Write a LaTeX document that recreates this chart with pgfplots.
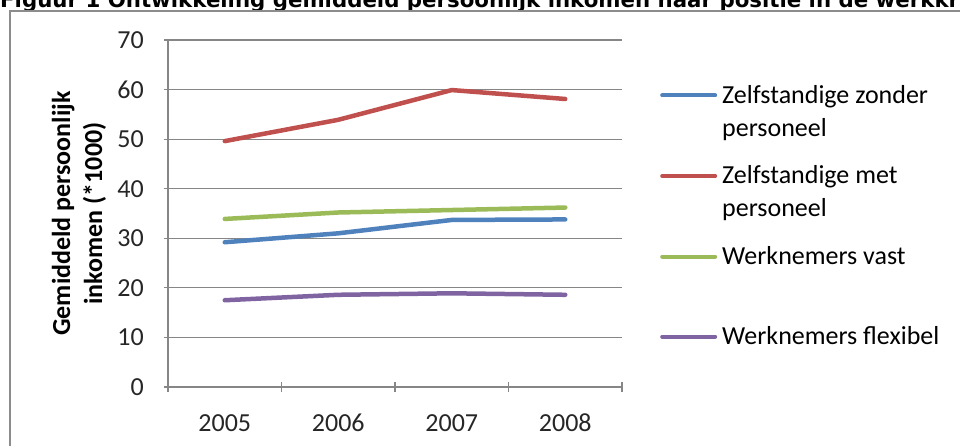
\documentclass[border=0pt]{standalone}
\usepackage{fontspec}
\setmainfont{Carlito}
\newfontfamily\titlefont{DejaVu Sans}
\usepackage{pgfplots}
\pgfplotsset{compat=1.18}

\definecolor{zzp}{HTML}{4F81BD}
\definecolor{zmp}{HTML}{C0504D}
\definecolor{wvast}{HTML}{9BBB59}
\definecolor{wflex}{HTML}{8064A2}
\definecolor{axgray}{HTML}{868686}
\definecolor{framegray}{HTML}{8C8C8C}

\pgfplotsset{
  limg/.style={legend image code/.code={\draw[##1, line width=4pt, line cap=round] (2pt,#1) -- (55pt,#1);}},
}

\begin{document}
\begin{tikzpicture}[x=1pt,y=1pt]
\path[use as bounding box] (0,0) rectangle (960,446);
\clip (0,0) rectangle (960,446);

% title, cut off at the top edge as in the scan
\node[anchor=base west, inner sep=0] at (0,438)
  {\titlefont\bfseries\fontsize{21.3}{24}\selectfont Figuur 1 Ontwikkeling gemiddeld persoonlijk inkomen naar positie in de werkkring};

% chart frame
\draw[framegray, line width=2.2pt] (10,-5) -- (10,435) -- (970,435);

\begin{axis}[
  at={(168pt,59pt)}, anchor=origin,
  scale only axis, width=454pt, height=347pt,
  xmin=0.5, xmax=4.5, ymin=0, ymax=70,
  ytick={0,10,...,70},
  xtick={1,2,3,4},
  xticklabels={2005,2006,2007,2008},
  minor xtick={0.5,1.5,2.5,3.5,4.5},
  major x tick style={draw=none},
  tick align=outside,
  major tick length=8pt, minor tick length=10pt,
  tick style={axgray, line width=1.2pt},
  axis lines=left, axis line style={-, axgray, line width=1.2pt},
  ymajorgrids, grid style={axgray, line width=1.2pt},
  ticklabel style={font=\fontsize{26}{31}\selectfont, text=black!85},
  /pgf/number format/assume math mode=true,
  yticklabel style={inner sep=0pt, xshift=-20pt},
  xticklabel style={inner sep=0pt, yshift=-23pt},
  ylabel={Gemiddeld persoonlijk\\inkomen (*1000)},
  ylabel style={at={(axis description cs:-0.196,0.5)}, anchor=center,
    align=center, font=\bfseries\fontsize{26}{32}\selectfont},
  legend cell align=left,
  legend style={at={(492pt,302pt)}, anchor=north west, draw=none, fill=none,
    font=\fontsize{26}{33}\selectfont, cells={align=left},
    row sep=28pt, inner sep=0pt, nodes={inner sep=0pt}, column sep=5pt},
  limg=0pt,
  every axis plot/.append style={line width=4.5pt, line cap=round, line join=round},
  clip=false,
]
\addplot[zzp, limg=16pt] coordinates {(1,29.2) (2,31.0) (3,33.7) (4,33.8)};
\addlegendentry{Zelfstandige zonder\\personeel}
\addplot[zmp, limg=16pt] coordinates {(1,49.6) (2,53.9) (3,59.9) (4,58.1)};
\addlegendentry{Zelfstandige met\\personeel}
\addplot[wvast, limg=16pt] coordinates {(1,33.9) (2,35.2) (3,35.7) (4,36.2)};
\addlegendentry{Werknemers vast\\\strut}
\addplot[wflex, limg=0pt] coordinates {(1,17.5) (2,18.6) (3,18.9) (4,18.6)};
\addlegendentry{Werknemers flexibel}
\end{axis}
\end{tikzpicture}
\end{document}
